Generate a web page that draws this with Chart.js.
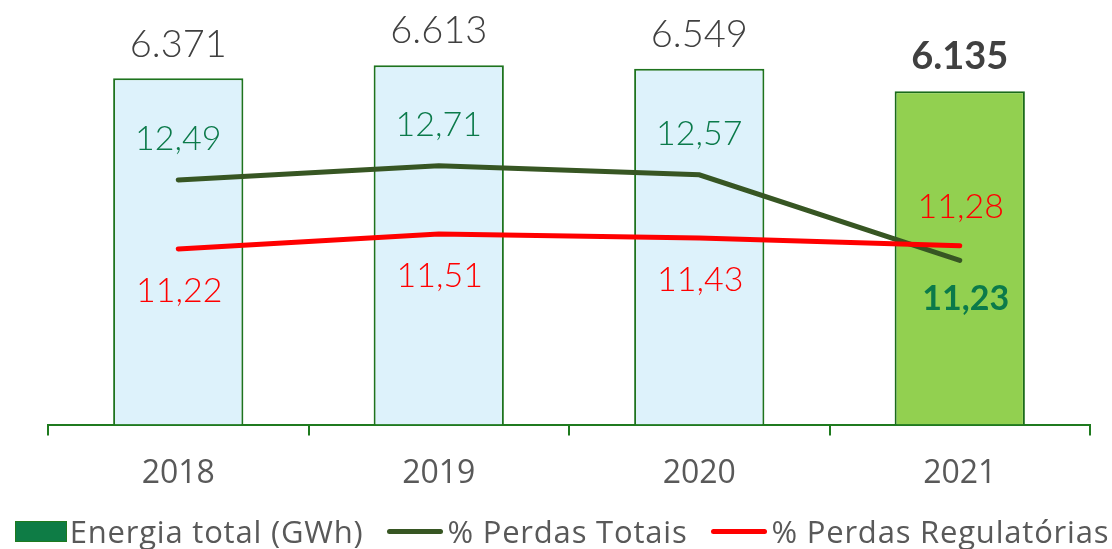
<!DOCTYPE html>
<html>
<head>
<meta charset="utf-8">
<script src="https://cdn.jsdelivr.net/npm/chart.js@4.4.1/dist/chart.umd.min.js"></script>
<style>
  html, body { margin: 0; padding: 0; background: #fff; }
  .wrap { position: relative; width: 1112px; height: 549px; }
  .legend {
      position: absolute; left: 6px; top: 510px; width: 1112px; height: 42px;
      display: flex; align-items: center; justify-content: center;
      font-family: 'Open Sans', sans-serif; font-size: 31px; letter-spacing: 0.8px; color: #595959;
      line-height: 42px; white-space: nowrap;
  }
  .item { display: flex; align-items: center; }
  .item + .item { margin-left: 24px; }
  .box { width: 50px; height: 19px; border: 1.5px solid #1F7A1F; margin-right: 3px; }
  .line { width: 56px; height: 5px; border-radius: 3px; margin-right: 4px; }
</style>
</head>
<body>
<div class="wrap">
  <canvas id="myChart" width="1112" height="549"></canvas>
  <div class="legend" id="legend"></div>
</div>
<script>
let years = ['2018', '2019', '2020', '2021'];
let energiaTotal = [6371, 6613, 6549, 6135];
let perdasTotais = [12.49, 12.71, 12.57, 11.23];
let perdasRegulatorias = [11.22, 11.51, 11.43, 11.28];

// where each value label sits relative to its mark
let totaisLabelPos = ['above', 'above', 'above', 'below'];
let regLabelPos = ['below', 'below', 'below', 'above'];

let fmt = (v, dec) => v.toLocaleString('pt-BR', {minimumFractionDigits: dec, maximumFractionDigits: dec});

let valueLabels = {
    id: 'valueLabels',
    afterDatasetsDraw(chart) {
        let ctx = chart.ctx;
        ctx.save();
        ctx.textAlign = 'center';
        ctx.textBaseline = 'middle';

        // bar values above bars
        chart.getDatasetMeta(0).data.forEach((bar, i) => {
            let last = i === energiaTotal.length - 1;
            ctx.font = (last ? 'bold ' : '300 ') + '38px Lato';
            ctx.fillStyle = '#404040';
            ctx.fillText(fmt(energiaTotal[i], 0).replace(',', '.'), bar.x, bar.y - 34);
        });

        chart.getDatasetMeta(1).data.forEach((pt, i) => {
            let last = i === perdasTotais.length - 1;
            ctx.font = (last ? 'bold ' : '300 ') + '34px Lato';
            ctx.fillStyle = '#0B7A4A';
            let dy = totaisLabelPos[i] === 'above' ? -41 : 39;
            ctx.fillText(fmt(perdasTotais[i], 2), pt.x + (last ? 6 : 0), pt.y + dy);
        });

        chart.getDatasetMeta(2).data.forEach((pt, i) => {
            ctx.font = '300 34px Lato';
            ctx.fillStyle = '#FF0000';
            let dy = regLabelPos[i] === 'above' ? -39 : 42;
            ctx.fillText(fmt(perdasRegulatorias[i], 2), pt.x + 1, pt.y + dy);
        });
        ctx.restore();
    }
};

let ctx = document.getElementById('myChart');
let chart = new Chart(ctx, {
    data: {
        labels: years,
        datasets: [
            {
                type: 'bar',
                label: 'Energia total (GWh)',
                data: energiaTotal,
                yAxisID: 'y',
                order: 2,
                backgroundColor: ['#DDF2FB', '#DDF2FB', '#DDF2FB', '#92D050'],
                borderColor: ['#1E731E', '#1E731E', '#1E731E', '#1A6B1A'],
                borderWidth: 2,
                barPercentage: 0.5,
                categoryPercentage: 1
            },
            {
                type: 'line',
                label: '% Perdas Totais',
                data: perdasTotais,
                yAxisID: 'y1',
                order: 1,
                borderColor: '#375623',
                backgroundColor: '#375623',
                borderWidth: 5,
                borderCapStyle: 'round',
                pointRadius: 0,
                tension: 0
            },
            {
                type: 'line',
                label: '% Perdas Regulatórias',
                data: perdasRegulatorias,
                yAxisID: 'y2',
                order: 0,
                borderColor: '#FF0000',
                backgroundColor: '#FF0000',
                borderWidth: 5,
                borderCapStyle: 'round',
                pointRadius: 0,
                tension: 0
            }
        ]
    },
    options: {
        responsive: false,
        animation: {
            duration: 0
        },
        layout: {
            padding: {top: 17, left: 48, right: 22, bottom: 37}
        },
        scales: {
            x: {
                offset: true,
                grid: {
                    offset: true,
                    drawOnChartArea: false,
                    drawTicks: true,
                    tickLength: 11,
                    color: '#1F7A1F',
                    lineWidth: 2
                },
                border: {color: '#1F7A1F', width: 2},
                ticks: {
                    color: '#595959',
                    padding: 19,
                    font: {family: 'Open Sans', size: 32}
                }
            },
            y: {display: false, min: 0, max: 7500},
            y1: {display: false, min: 8.66, max: 15.04},
            y2: {display: false, min: 7.835, max: 15.69}
        },
        plugins: {
            tooltip: {enabled: false},
            legend: {display: false}
        }
    },
    plugins: [valueLabels]
});

// html legend, built from the datasets
let legendEl = document.getElementById('legend');
let legendSwatch = ['#0E7C45', '#375623', '#FF0000'];
chart.data.datasets.forEach((ds, i) => {
    let item = document.createElement('div');
    item.className = 'item';
    let mark = document.createElement('span');
    mark.className = ds.type === 'bar' ? 'box' : 'line';
    mark.style.background = legendSwatch[i];
    let txt = document.createElement('span');
    txt.textContent = ds.label;
    item.appendChild(mark);
    item.appendChild(txt);
    legendEl.appendChild(item);
});
</script>
</body>
</html>
